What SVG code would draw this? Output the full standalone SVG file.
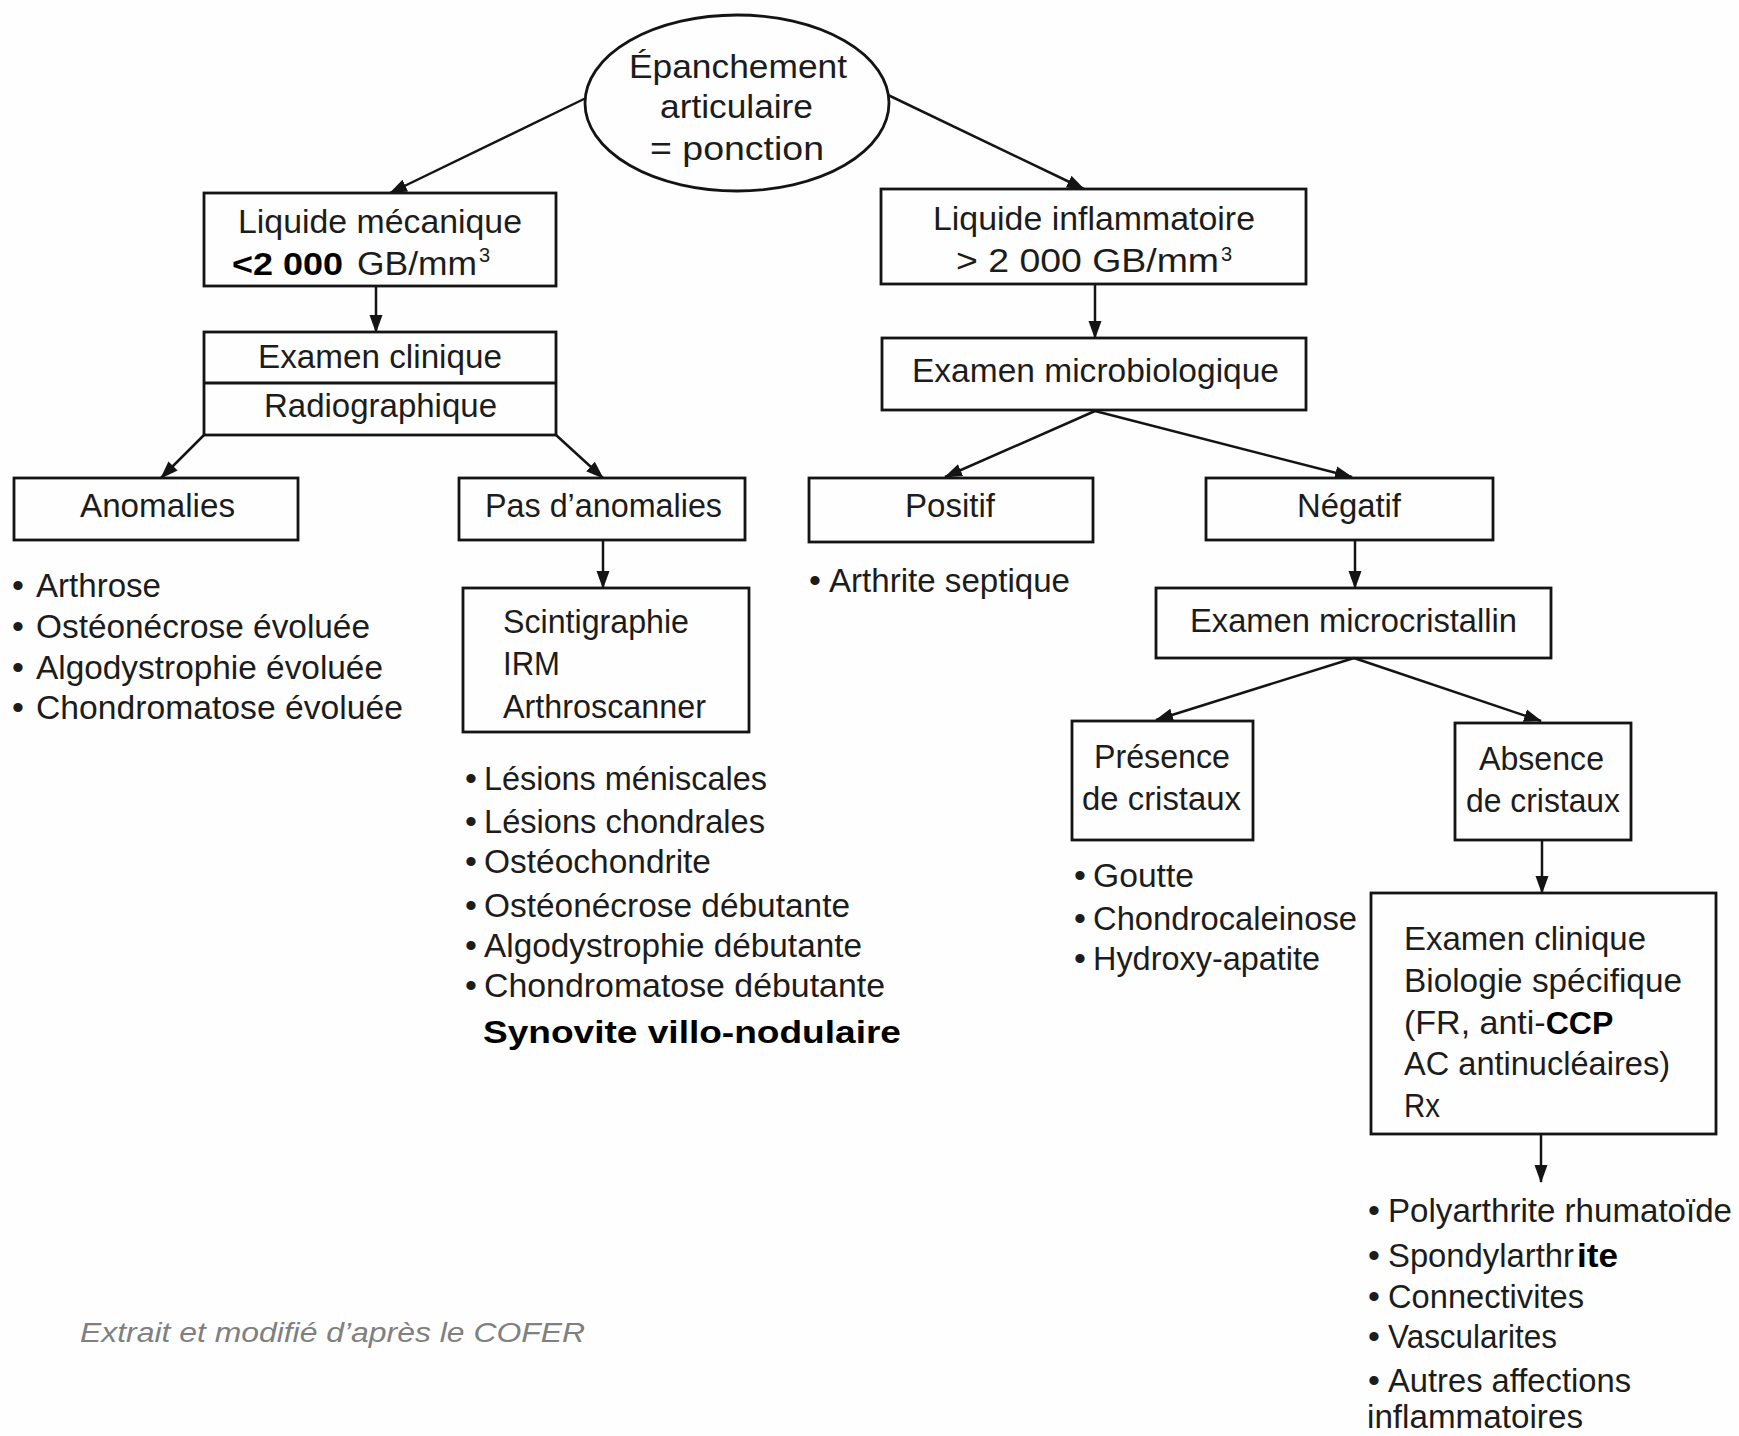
<svg xmlns="http://www.w3.org/2000/svg" width="1739" height="1436" viewBox="0 0 1739 1436">
<style>
.bx{fill:none;stroke:#141414;stroke-width:2.8}
.cn{fill:none;stroke:#141414;stroke-width:2.5;marker-end:url(#ah)}
text{font-family:"Liberation Sans",Arial,sans-serif;font-size:34px;fill:#1c1c1c}
.b{font-weight:bold;fill:#000;font-size:31px}
.sup{font-size:20px}
.cr{font-style:italic;fill:#808080;font-size:28px}
</style>
<defs>
<marker id="ah" viewBox="0 0 18 14" refX="17" refY="7" markerWidth="18" markerHeight="14" markerUnits="userSpaceOnUse" orient="auto">
<path d="M0,0.5 L18,7 L0,13.5 Z" fill="#141414"/>
</marker>
</defs>
<rect width="1739" height="1436" fill="#fefefe"/>

<g id="connectors">
<line class="cn" x1="586" y1="98" x2="390" y2="193"/>
<line class="cn" x1="888" y1="95" x2="1084" y2="189"/>
<line class="cn" x1="376" y1="286" x2="376" y2="332"/>
<line class="cn" x1="204" y1="435" x2="161" y2="478"/>
<line class="cn" x1="556" y1="435" x2="603" y2="478"/>
<line class="cn" x1="603" y1="540" x2="603" y2="588"/>
<line class="cn" x1="1095" y1="284" x2="1095" y2="338"/>
<line class="cn" x1="1095" y1="411" x2="945" y2="477"/>
<line class="cn" x1="1095" y1="411" x2="1352" y2="477"/>
<line class="cn" x1="1355" y1="540" x2="1355" y2="588"/>
<line class="cn" x1="1354" y1="658" x2="1156" y2="720"/>
<line class="cn" x1="1354" y1="658" x2="1541" y2="721"/>
<line class="cn" x1="1542" y1="840" x2="1542" y2="893"/>
<line class="cn" x1="1541" y1="1134" x2="1541" y2="1182"/>
</g>

<g id="n-epanchement">
<ellipse class="bx" cx="737" cy="103" rx="152" ry="88"/>
<text x="629" y="78" textLength="218" lengthAdjust="spacingAndGlyphs">Épanchement</text>
<text x="660" y="118" textLength="153" lengthAdjust="spacingAndGlyphs">articulaire</text>
<text x="650" y="160" textLength="174" lengthAdjust="spacingAndGlyphs">= ponction</text>
</g>

<g id="n-liquide-mecanique">
<rect class="bx" x="204" y="193" width="352" height="93"/>
<text x="238" y="233" textLength="284" lengthAdjust="spacingAndGlyphs">Liquide mécanique</text>
<text class="b" x="232" y="275" textLength="111" lengthAdjust="spacingAndGlyphs">&lt;2 000</text>
<text x="357" y="275" textLength="120" lengthAdjust="spacingAndGlyphs">GB/mm</text>
<text class="sup" x="479" y="262">3</text>
</g>

<g id="n-examen-clinique">
<rect class="bx" x="204" y="332" width="352" height="103"/>
<line class="bx" x1="204" y1="383" x2="556" y2="383"/>
<text x="258" y="368" textLength="244" lengthAdjust="spacingAndGlyphs">Examen clinique</text>
<text x="264" y="417" textLength="233" lengthAdjust="spacingAndGlyphs">Radiographique</text>
</g>

<g id="n-anomalies">
<rect class="bx" x="14" y="478" width="284" height="62"/>
<text x="80" y="517" textLength="155" lengthAdjust="spacingAndGlyphs">Anomalies</text>
</g>

<g id="l-anomalies">
<text x="12" y="597">•</text><text x="36" y="597" textLength="125" lengthAdjust="spacingAndGlyphs">Arthrose</text>
<text x="12" y="638">•</text><text x="36" y="638" textLength="334" lengthAdjust="spacingAndGlyphs">Ostéonécrose évoluée</text>
<text x="12" y="679">•</text><text x="36" y="679" textLength="347" lengthAdjust="spacingAndGlyphs">Algodystrophie évoluée</text>
<text x="12" y="719">•</text><text x="36" y="719" textLength="367" lengthAdjust="spacingAndGlyphs">Chondromatose évoluée</text>
</g>

<g id="n-pas-anomalies">
<rect class="bx" x="459" y="478" width="286" height="62"/>
<text x="485" y="517" textLength="237" lengthAdjust="spacingAndGlyphs">Pas d’anomalies</text>
</g>

<g id="n-scintigraphie">
<rect class="bx" x="463" y="588" width="286" height="144"/>
<text x="503" y="633" textLength="186" lengthAdjust="spacingAndGlyphs">Scintigraphie</text>
<text x="503" y="675" textLength="57" lengthAdjust="spacingAndGlyphs">IRM</text>
<text x="503" y="718" textLength="203" lengthAdjust="spacingAndGlyphs">Arthroscanner</text>
</g>

<g id="l-scintigraphie">
<text x="465" y="790">•</text><text x="484" y="790" textLength="283" lengthAdjust="spacingAndGlyphs">Lésions méniscales</text>
<text x="465" y="833">•</text><text x="484" y="833" textLength="281" lengthAdjust="spacingAndGlyphs">Lésions chondrales</text>
<text x="465" y="873">•</text><text x="484" y="873" textLength="227" lengthAdjust="spacingAndGlyphs">Ostéochondrite</text>
<text x="465" y="917">•</text><text x="484" y="917" textLength="366" lengthAdjust="spacingAndGlyphs">Ostéonécrose débutante</text>
<text x="465" y="957">•</text><text x="484" y="957" textLength="378" lengthAdjust="spacingAndGlyphs">Algodystrophie débutante</text>
<text x="465" y="997">•</text><text x="484" y="997" textLength="401" lengthAdjust="spacingAndGlyphs">Chondromatose débutante</text>
<text class="b" x="483" y="1043" textLength="418" lengthAdjust="spacingAndGlyphs">Synovite villo-nodulaire</text>
</g>

<g id="n-liquide-inflammatoire">
<rect class="bx" x="881" y="189" width="425" height="95"/>
<text x="933" y="230" textLength="322" lengthAdjust="spacingAndGlyphs">Liquide inflammatoire</text>
<text x="956" y="272" textLength="263" lengthAdjust="spacingAndGlyphs">&gt; 2 000 GB/mm</text>
<text class="sup" x="1221" y="261">3</text>
</g>

<g id="n-microbiologique">
<rect class="bx" x="882" y="338" width="424" height="72"/>
<text x="912" y="382" textLength="367" lengthAdjust="spacingAndGlyphs">Examen microbiologique</text>
</g>

<g id="n-positif">
<rect class="bx" x="809" y="478" width="284" height="64"/>
<text x="905" y="517" textLength="90" lengthAdjust="spacingAndGlyphs">Positif</text>
</g>

<g id="l-positif">
<text x="809" y="592">•</text><text x="829" y="592" textLength="241" lengthAdjust="spacingAndGlyphs">Arthrite septique</text>
</g>

<g id="n-negatif">
<rect class="bx" x="1206" y="478" width="287" height="62"/>
<text x="1297" y="517" textLength="104" lengthAdjust="spacingAndGlyphs">Négatif</text>
</g>

<g id="n-microcristallin">
<rect class="bx" x="1156" y="588" width="395" height="70"/>
<text x="1190" y="632" textLength="327" lengthAdjust="spacingAndGlyphs">Examen microcristallin</text>
</g>

<g id="n-presence">
<rect class="bx" x="1072" y="721" width="181" height="119"/>
<text x="1094" y="768" textLength="136" lengthAdjust="spacingAndGlyphs">Présence</text>
<text x="1082" y="810" textLength="159" lengthAdjust="spacingAndGlyphs">de cristaux</text>
</g>

<g id="l-presence">
<text x="1074" y="887">•</text><text x="1093" y="887" textLength="101" lengthAdjust="spacingAndGlyphs">Goutte</text>
<text x="1074" y="930">•</text><text x="1093" y="930" textLength="264" lengthAdjust="spacingAndGlyphs">Chondrocaleinose</text>
<text x="1074" y="970">•</text><text x="1093" y="970" textLength="227" lengthAdjust="spacingAndGlyphs">Hydroxy-apatite</text>
</g>

<g id="n-absence">
<rect class="bx" x="1455" y="723" width="176" height="117"/>
<text x="1479" y="770" textLength="125" lengthAdjust="spacingAndGlyphs">Absence</text>
<text x="1466" y="812" textLength="154" lengthAdjust="spacingAndGlyphs">de cristaux</text>
</g>

<g id="n-examen-bio">
<rect class="bx" x="1371" y="893" width="345" height="241"/>
<text x="1404" y="950" textLength="242" lengthAdjust="spacingAndGlyphs">Examen clinique</text>
<text x="1404" y="992" textLength="278" lengthAdjust="spacingAndGlyphs">Biologie spécifique</text>
<text x="1404" y="1034">(FR, anti-<tspan class="b" style="font-size:32px">CCP</tspan></text>
<text x="1404" y="1075" textLength="266" lengthAdjust="spacingAndGlyphs">AC antinucléaires)</text>
<text x="1404" y="1117" textLength="36" lengthAdjust="spacingAndGlyphs">Rx</text>
</g>

<g id="l-examen-bio">
<text x="1368" y="1222">•</text><text x="1388" y="1222" textLength="344" lengthAdjust="spacingAndGlyphs">Polyarthrite rhumatoïde</text>
<text x="1368" y="1267">•</text><text x="1388" y="1267" textLength="186" lengthAdjust="spacingAndGlyphs">Spondylarthr</text>
<text class="b" x="1577" y="1267" textLength="41" lengthAdjust="spacingAndGlyphs" style="font-size:34px">ite</text>
<text x="1368" y="1308">•</text><text x="1388" y="1308" textLength="196" lengthAdjust="spacingAndGlyphs">Connectivites</text>
<text x="1368" y="1348">•</text><text x="1388" y="1348" textLength="169" lengthAdjust="spacingAndGlyphs">Vascularites</text>
<text x="1368" y="1392">•</text><text x="1388" y="1392" textLength="243" lengthAdjust="spacingAndGlyphs">Autres affections</text>
<text x="1367" y="1428" textLength="216" lengthAdjust="spacingAndGlyphs">inflammatoires</text>
</g>

<text class="cr" x="80" y="1342" textLength="505" lengthAdjust="spacingAndGlyphs">Extrait et modifié d’après le COFER</text>
</svg>
